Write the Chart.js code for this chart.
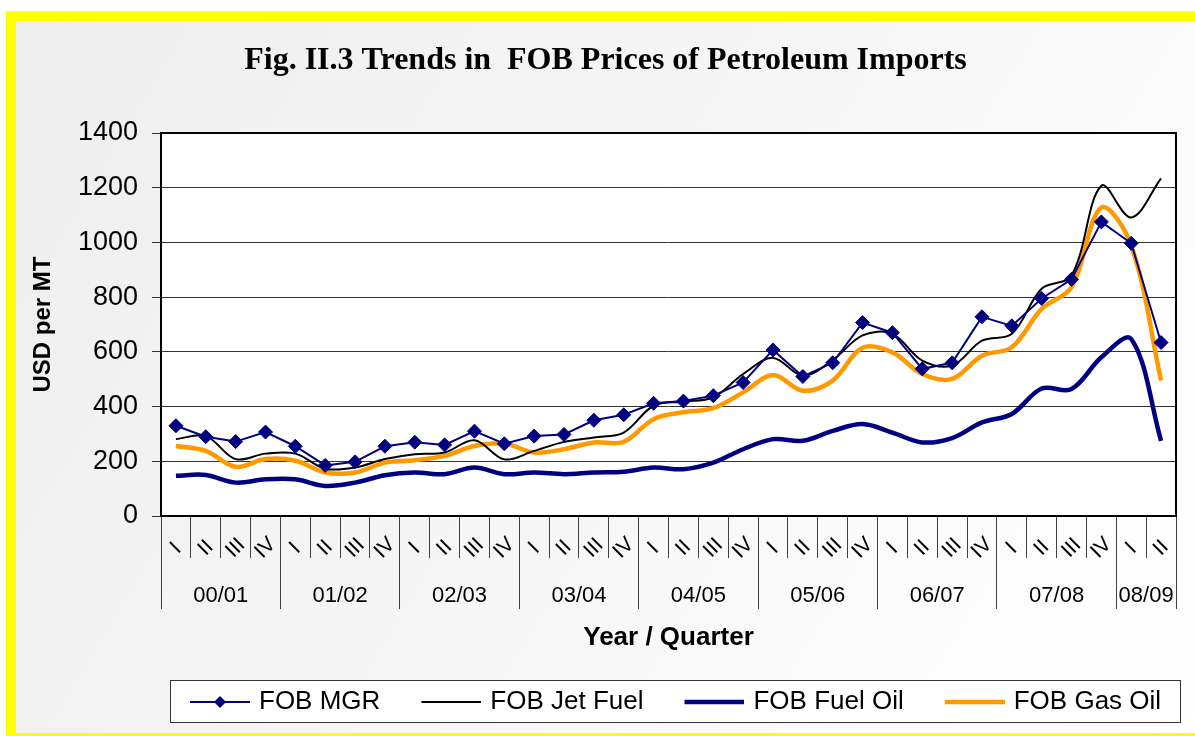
<!DOCTYPE html>
<html>
<head>
<meta charset="utf-8">
<title>Fig. II.3 Trends in FOB Prices of Petroleum Imports</title>
<script src="https://cdn.jsdelivr.net/npm/chart.js@4.4.1/dist/chart.umd.min.js"></script>
<style>
  html, body { margin: 0; padding: 0; background: #fff; }
  canvas { display: block; }
</style>
</head>
<body>
<canvas id="chart" width="1195" height="736"></canvas>
<script>
// -------------------- DATA -------------------
let Quarters = [
  'I','II','III','IV', 'I','II','III','IV', 'I','II','III','IV', 'I','II','III','IV',
  'I','II','III','IV', 'I','II','III','IV', 'I','II','III','IV', 'I','II','III','IV',
  'I','II'
];
let YearLabels  = ['00/01','01/02','02/03','03/04','04/05','05/06','06/07','07/08','08/09'];
let YearCenters = [2, 6, 10, 14, 18, 22, 26, 30, 33];   // position on the year row (in quarters)
let YearBounds  = [0, 4, 8, 12, 16, 20, 24, 28, 32, 34];

let MgrValues = [330,290,272,307,255,185,198,255,270,260,310,264,292,298,350,370,412,
                 420,440,488,607,510,560,707,670,538,560,728,695,795,865,1075,997,634];
let JetFuelValues = [281,292,208,228,228,173,177,208,226,232,277,207,238,271,287,305,403,
                     418,434,519,578,513,570,660,666,568,550,641,666,831,879,1207,1091,1234];
let FuelOilValues = [147,150,122,134,134,110,122,149,159,153,177,153,159,153,159,162,177,
                     171,195,244,281,275,311,336,305,269,285,342,373,466,464,580,647,275];
let GasOilValues = [256,238,180,208,202,159,159,195,204,220,256,265,232,244,269,271,354,
                    379,394,452,515,458,495,615,598,519,501,586,617,757,837,1127,989,495];

let YTicks = [0, 200, 400, 600, 800, 1000, 1200, 1400];

// -------------------- STYLE -------------------
const NAVY = '#000080';
const ORANGE = '#FF9900';
const SANS = '"Liberation Sans", Arial, sans-serif';
const SERIF = '"Liberation Serif", "Times New Roman", serif';

Chart.defaults.font.family = SANS;
Chart.defaults.color = '#000';

// -------------------- FUNCTIONS -------------------
function MakeLegendImage(color, width, diamond) {
  let c = document.createElement('canvas');
  c.width = 78; c.height = 20;
  let g = c.getContext('2d');
  g.strokeStyle = color;
  g.lineWidth = width;
  g.beginPath(); g.moveTo(18, 10); g.lineTo(78, 10); g.stroke();
  if (diamond) {
    g.fillStyle = color;
    g.beginPath();
    g.moveTo(48, 4); g.lineTo(54, 10); g.lineTo(48, 16); g.lineTo(42, 10);
    g.closePath(); g.fill();
  }
  return c;
}

let LegendImages = [
  MakeLegendImage(NAVY, 2, true),
  MakeLegendImage('#000', 2, false),
  MakeLegendImage(NAVY, 4.5, false),
  MakeLegendImage(ORANGE, 4.5, false)
];

// background, yellow frame, plot area and legend box
const FramePlugin = {
  id: 'frame',
  afterLayout(chart) {
    let lg = chart.legend;
    let h = lg.height;
    lg.left = 149; lg.right = 1195; lg.width = 1046;
    lg.top = 662; lg.bottom = 662 + h;
    let tb = chart.titleBlock;
    tb.left = 16; tb.right = 1195; tb.width = 1179;
  },
  beforeDraw(chart) {
    let ctx = chart.ctx;
    let a = chart.chartArea;
    ctx.save();
    ctx.fillStyle = '#fff';
    ctx.fillRect(0, 0, chart.width, chart.height);
    let g = ctx.createLinearGradient(16, 21, 1195, 733);
    g.addColorStop(0, '#eeeeee');
    g.addColorStop(1, '#ffffff');
    ctx.fillStyle = g;
    ctx.fillRect(16, 21, 1179, 712);
    ctx.fillStyle = '#ffff00';
    ctx.fillRect(6, 11, 1189, 10);
    ctx.fillRect(6, 11, 10, 725);
    ctx.fillRect(6, 733, 1189, 3);
    ctx.fillStyle = '#fff';
    ctx.fillRect(a.left, a.top, a.right - a.left, a.bottom - a.top);
    ctx.fillRect(170, 681, 1010, 42);
    ctx.strokeStyle = '#333';
    ctx.lineWidth = 1;
    ctx.strokeRect(170.5, 680.5, 1010, 42);
    ctx.restore();
  },
  beforeDatasetsDraw(chart) {
    let ctx = chart.ctx;
    let a = chart.chartArea;
    ctx.save();
    ctx.strokeStyle = '#000';
    ctx.lineWidth = 2;
    ctx.strokeRect(a.left, a.top, a.right - a.left, a.bottom - a.top);
    ctx.restore();
  },
  afterDraw(chart) {
    // rotated quarter labels, centred on each category
    let ctx = chart.ctx;
    let xs = chart.scales.x;
    ctx.save();
    ctx.font = '21px ' + SANS;
    ctx.fillStyle = '#000';
    ctx.textAlign = 'center';
    ctx.textBaseline = 'middle';
    Quarters.forEach((q, i) => {
      ctx.save();
      ctx.translate(xs.getPixelForValue(i), xs.top + 32);
      ctx.rotate(-Math.PI / 4);
      ctx.fillText(q, 0, 0);
      ctx.restore();
    });
    ctx.restore();
  }
};

// -------------------- CHART -------------------
let Canvas = document.getElementById('chart');

let LineChart = new Chart(Canvas, {
  type: 'line',
  data: {
    labels: Quarters,
    datasets: [
      {
        label: 'FOB MGR',
        data: MgrValues,
        borderColor: NAVY,
        backgroundColor: NAVY,
        borderWidth: 2,
        tension: 0,
        pointStyle: 'rectRot',
        pointRadius: 7,
        pointBackgroundColor: NAVY,
        pointBorderColor: NAVY,
        pointBorderWidth: 1
      },
      {
        label: 'FOB Jet Fuel',
        data: JetFuelValues,
        borderColor: '#000',
        borderWidth: 2,
        tension: 0.35,
        pointRadius: 0
      },
      {
        label: 'FOB Fuel Oil',
        data: FuelOilValues,
        borderColor: NAVY,
        borderWidth: 4.5,
        tension: 0.35,
        pointRadius: 0
      },
      {
        label: 'FOB Gas Oil',
        data: GasOilValues,
        borderColor: ORANGE,
        borderWidth: 4.5,
        tension: 0.35,
        pointRadius: 0
      }
    ]
  },
  options: {
    responsive: false,
    animation: false,
    devicePixelRatio: 1,
    layout: { padding: { top: 0, left: 0, right: 19, bottom: 20 } },
    plugins: {
      tooltip: { enabled: false },
      title: {
        display: true,
        text: 'Fig. II.3 Trends in  FOB Prices of Petroleum Imports',
        font: { family: SERIF, size: 32, weight: 'bold' },
        color: '#000',
        padding: { top: 42, bottom: 52.6 }
      },
      legend: {
        position: 'bottom',
        align: 'start',
        labels: {
          usePointStyle: true,
          pointStyleWidth: 70,
          padding: 27,
          color: '#000',
          font: { size: 26 },
          generateLabels: chart => chart.data.datasets.map((ds, i) => ({
            text: ds.label,
            datasetIndex: i,
            pointStyle: LegendImages[i],
            fillStyle: 'rgba(0,0,0,0)',
            strokeStyle: 'rgba(0,0,0,0)',
            lineWidth: 0,
            hidden: false
          }))
        }
      }
    },
    scales: {
      x: {
        type: 'category',
        position: 'bottom',
        offset: true,
        grid: {
          offset: true,
          drawOnChartArea: false,
          drawTicks: true,
          tickLength: 42,
          color: '#404040',
          lineWidth: 1
        },
        border: { display: false },
        ticks: { display: false },
        afterFit: s => { s.height = 42; }
      },
      y: {
        min: 0,
        max: 1400,
        afterBuildTicks: s => { s.ticks = YTicks.map(v => ({ value: v })); },
        grid: { color: '#333', lineWidth: 1, tickLength: 9 },
        border: { display: false },
        ticks: { font: { size: 27 }, color: '#000', padding: 14, callback: v => String(v) },
        title: {
          display: true,
          text: 'USD per MT',
          font: { size: 24, weight: 'bold' },
          color: '#000',
          padding: { top: 29, bottom: 0 }
        },
        afterFit: s => { s.width = 161; }
      },
      x2: {
        type: 'linear',
        position: 'bottom',
        min: 0,
        max: 34,
        afterBuildTicks: s => {
          s.ticks = YearBounds.concat(YearCenters).sort((a, b) => a - b).map(v => ({ value: v }));
        },
        grid: {
          drawOnChartArea: false,
          drawTicks: true,
          tickLength: 51,
          lineWidth: 1,
          color: c => (c.tick && YearBounds.includes(c.tick.value)) ? '#404040' : 'rgba(0,0,0,0)'
        },
        border: { display: false },
        ticks: {
          autoSkip: false,
          maxRotation: 0,
          minRotation: 0,
          padding: -26,
          font: { size: 22 },
          color: '#000',
          callback: value => {
            let k = YearCenters.indexOf(value);
            return k >= 0 ? YearLabels[k] : '';
          }
        },
        title: {
          display: true,
          text: 'Year / Quarter',
          font: { size: 26, weight: 'bold' },
          color: '#000',
          padding: { top: 0, bottom: 0 }
        },
        afterFit: s => { s.height = 95; }
      }
    }
  },
  plugins: [FramePlugin]
});
</script>
</body>
</html>
